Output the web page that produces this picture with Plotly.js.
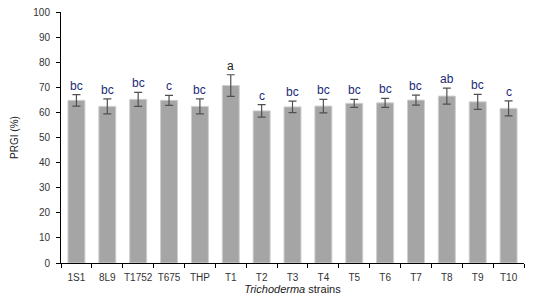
<!DOCTYPE html>
<html>
<head>
<meta charset="utf-8">
<script src="https://cdn.plot.ly/plotly-3.0.1.min.js"></script>
<style>html,body{margin:0;padding:0;background:#fff;}#chart{width:538px;height:301px;}</style>
</head>
<body>
<div id="chart"></div>
<script>
const strains = ["1S1","8L9","T1752","T675","THP","T1","T2","T3","T4","T5","T6","T7","T8","T9","T10"];
const prgi = [64.8,62.4,65.2,64.8,62.4,70.7,60.6,62.2,62.5,63.6,63.8,64.9,66.5,64.2,61.6];
const errs = [2.3,3.0,2.8,2.0,3.0,4.3,2.5,2.3,2.7,1.6,1.8,2.0,3.2,3.0,3.0];
const letters = ["bc","bc","bc","c","bc","a","c","bc","bc","bc","bc","bc","ab","bc","c"];

const trace = {
  type: "bar",
  x: strains,
  y: prgi,
  marker: {color: "#a5a5a5", line: {color: "#cfcfcf", width: 1}},
  error_y: {type: "data", array: errs, visible: true, color: "#505050", thickness: 1.2, width: 4},
  hoverinfo: "none"
};

const annotations = strains.map((s, i) => ({
  x: s, y: prgi[i] + errs[i], xref: "x", yref: "y",
  text: letters[i], showarrow: false, yanchor: "bottom", yshift: 0,
  font: {family: "Liberation Sans, Arial, sans-serif", size: 12, color: letters[i] === "a" ? "#222222" : "#1c2a78"}
}));

const layout = {
  width: 538, height: 301,
  margin: {l: 61, r: 14, t: 12, b: 38},
  paper_bgcolor: "#ffffff", plot_bgcolor: "#ffffff",
  bargap: 0.45,
  showlegend: false,
  font: {family: "Liberation Sans, Arial, sans-serif", size: 10, color: "#333"},
  xaxis: {
    showline: true, linecolor: "#000", linewidth: 1,
    ticks: "outside", ticklen: 4, tickcolor: "#000", tickson: "boundaries",
    showgrid: false, tickangle: 0, ticklabelstandoff: 5,
    tickfont: {size: 10, color: "#333"},
    title: {text: "<i>Trichoderma</i> strains", font: {size: 11, color: "#222"}, standoff: 1}
  },
  yaxis: {
    range: [0, 100], dtick: 10, showline: true, linecolor: "#000", linewidth: 1,
    ticks: "outside", ticklen: 4, tickcolor: "#000", showgrid: false, zeroline: false,
    ticklabelstandoff: 4,
    tickfont: {size: 10, color: "#333"},
    title: {text: "PRGI (%)", font: {size: 10, color: "#222"}, standoff: 12}
  },
  annotations: annotations
};

Plotly.newPlot("chart", [trace], layout, {staticPlot: true, displayModeBar: false});
</script>
</body>
</html>
